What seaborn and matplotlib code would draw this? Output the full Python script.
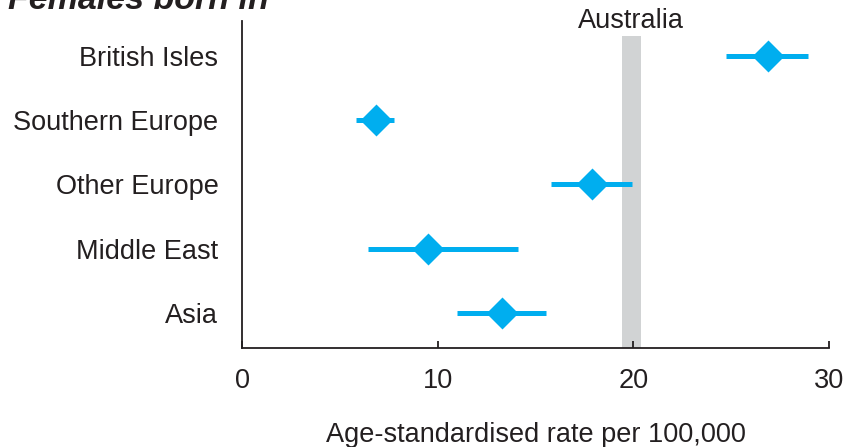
import matplotlib
matplotlib.use("Agg")
import matplotlib.pyplot as plt
import numpy as np
import pandas as pd
import seaborn as sns

# Age-standardised rates with 95% confidence limits, by region of birth
regions = ["British Isles", "Southern Europe", "Other Europe", "Middle East", "Asia"]
rate = [26.9, 6.85, 17.9, 9.5, 13.3]
lower = [24.75, 5.85, 15.8, 6.45, 11.0]
upper = [28.95, 7.75, 19.95, 14.1, 15.55]

# Australian-born reference band
australia_low = 19.4
australia_high = 20.4
australia_label = "Australia"

xticks = [0, 10, 20, 30]
xlabel = "Age-standardised rate per 100,000"
title = "Females born in"

INK = "#231f20"
CYAN = "#00aeef"
BAND = "#d1d3d4"

sns.set_theme(style="white")
plt.rcParams["font.family"] = ["Liberation Sans", "DejaVu Sans"]
plt.rcParams["text.color"] = INK

# long table: point estimate plus both limits for each region
records = []
for r, lo, mid, hi in zip(regions, lower, rate, upper):
    for v in (lo, mid, hi):
        records.append({"region": r, "value": v})
df = pd.DataFrame(records)

fig = plt.figure(figsize=(8.5, 4.47), dpi=100)
ax = fig.add_axes([242 / 850, 1 - 348 / 447, (829 - 242) / 850, (348 - 21) / 447])

ax.axvspan(australia_low, australia_high, ymin=0, ymax=0.954,
           color=BAND, lw=0, zorder=0)

sns.pointplot(
    data=df, x="value", y="region", order=regions,
    estimator=np.median,
    errorbar=lambda v: (np.min(v), np.max(v)),
    linestyles="none", markers="D", color=CYAN,
    markersize=14.5, err_kws={"linewidth": 3.6}, capsize=0,
    ax=ax, zorder=3,
)
for ln in ax.lines:
    ln.set_solid_capstyle("butt")

ax.set_xlim(0, 30)
ax.set_ylim(len(regions) - 1 + 0.545, -0.545)
ax.set_xticks(xticks)
ax.set_xticklabels([str(t) for t in xticks])
ax.set_xlabel(xlabel, fontsize=19.5, color=INK, labelpad=20)
ax.set_ylabel("")

for side in ("top", "right"):
    ax.spines[side].set_visible(False)
for side in ("left", "bottom"):
    ax.spines[side].set_color(INK)
    ax.spines[side].set_linewidth(1.3)

ax.tick_params(axis="x", direction="in", length=5, width=1.3, color=INK,
               labelsize=19.5, labelcolor=INK, pad=14.5, bottom=True)
ax.tick_params(axis="y", length=0, labelsize=19.5, labelcolor=INK, pad=17)

ax.text((australia_low + australia_high) / 2, 1.0, australia_label,
        transform=ax.get_xaxis_transform(), ha="center", va="center",
        fontsize=19.5, color=INK)

fig.text(8 / 850, 1 - 9 / 447, title, fontsize=24.5, fontweight="bold",
         fontstyle="italic", color=INK, ha="left", va="baseline")

fig.savefig("out.png", dpi=100)
